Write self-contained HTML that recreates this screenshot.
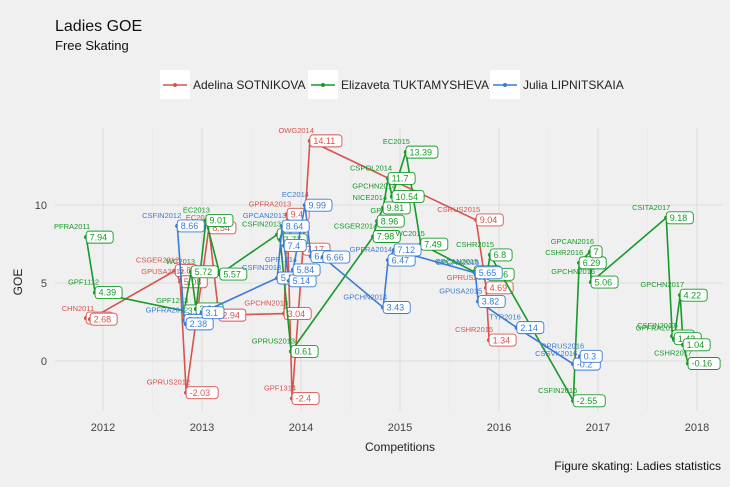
<!DOCTYPE html>
<html><head><meta charset="utf-8">
<style>
html,body{margin:0;padding:0;background:#f0f0f0;}
svg{display:block;font-family:"Liberation Sans",Arial,sans-serif;}
</style></head>
<body>
<svg id="chart" width="730" height="487" viewBox="0 0 730 487" xmlns="http://www.w3.org/2000/svg">
<rect x="0" y="0" width="730" height="487" fill="#f0f0f0"/>
<text x="55" y="31" font-size="16" fill="#111">Ladies GOE</text>
<text x="55" y="50" font-size="13" fill="#111">Free Skating</text>
<g>
 <g>
  <rect x="160" y="70" width="30" height="29" fill="#fff"/>
  <line x1="163" y1="85" x2="187" y2="85" stroke="#d6544e" stroke-width="1.5"/>
  <circle cx="175" cy="85" r="2" fill="#d6544e"/>
  <text x="193" y="89" font-size="12" fill="#222">Adelina SOTNIKOVA</text>
 </g>
 <g>
  <rect x="308" y="70" width="30" height="29" fill="#fff"/>
  <line x1="311" y1="85" x2="335" y2="85" stroke="#169a28" stroke-width="1.5"/>
  <circle cx="323" cy="85" r="2" fill="#169a28"/>
  <text x="341" y="89" font-size="12" fill="#222">Elizaveta TUKTAMYSHEVA</text>
 </g>
 <g>
  <rect x="490" y="70" width="30" height="29" fill="#fff"/>
  <line x1="493" y1="85" x2="517" y2="85" stroke="#3a7bd5" stroke-width="1.5"/>
  <circle cx="505" cy="85" r="2" fill="#3a7bd5"/>
  <text x="523" y="89" font-size="12" fill="#222">Julia LIPNITSKAIA</text>
 </g>
</g>
<g id="grid"></g>
<g id="axes"></g>
<g id="series"></g>
<text x="22" y="282" font-size="12" fill="#222" text-anchor="middle" transform="rotate(-90 22 282)">GOE</text>
<text x="400" y="451" font-size="12" fill="#222" text-anchor="middle">Competitions</text>
<text x="721" y="470" font-size="12" fill="#111" text-anchor="end">Figure skating: Ladies statistics</text>
</svg>
<script>
const xTicks = [2012, 2013, 2014, 2015, 2016, 2017, 2018];
const yTicks = [0, 5, 10];

const sotNames = ["", "CHN2011", "CSGER2012", "GPUSA2012", "GPRUS2012", "EC2013", "", "GPCHN2013", "GPFRA2013", "GPF1314", "", "OWG2014", "CSRUS2015", "GPRUS2015", "CSHR2015"];
const sotX = [2011.83, 2011.87, 2012.73, 2012.78, 2012.84, 2013.07, 2013.17, 2013.83, 2013.86, 2013.91, 2014.02, 2014.09, 2015.77, 2015.87, 2015.9];
const sotY = [2.75, 2.68, 5.8, 5.08, -2.03, 8.54, 2.94, 3.04, 9.4, -2.4, 7.17, 14.11, 9.04, 4.69, 1.34];

const tukNames = ["PFRA2011", "GPF1112", "GPF1213", "WC2013", "", "EC2013", "", "CSFIN2013", "", "GPRUS2013", "CSGER2014", "GP", "NICE2014", "CSPOL2014", "GPCHN2014", "EC2015", "WC2015", "GPCAN2015", "", "CSHR2015", "CSFIN2016", "CSHR2016", "GPCAN2016", "GPCHN2016", "CSITA2017", "CSFIN2017", "GPFRA2017", "GPCHN2017", "", "CSHR2017"];
const tukLabels = ["7.94", "4.39", "3.21", "5.72", "3.34", "9.01", "5.57", "8.1", "7.77", "0.61", "7.98", "8.96", "9.81", "11.7", "10.54", "13.39", "7.49", "5.72", "5.56", "6.8", "-2.55", "6.29", "7", "5.06", "9.18", "1.6", "1.43", "4.22", "1.04", "-0.16"];
const tukX = [2011.83, 2011.92, 2012.82, 2012.89, 2012.94, 2013.04, 2013.18, 2013.76, 2013.79, 2013.9, 2014.73, 2014.77, 2014.83, 2014.88, 2014.92, 2015.06, 2015.21, 2015.75, 2015.88, 2015.91, 2016.75, 2016.81, 2016.92, 2016.93, 2017.69, 2017.75, 2017.77, 2017.83, 2017.86, 2017.91];
const tukY = [7.94, 4.39, 3.21, 5.72, 3.34, 9.01, 5.57, 8.1, 7.77, 0.61, 7.98, 8.96, 9.81, 11.7, 10.54, 13.39, 7.49, 5.72, 5.56, 6.8, -2.55, 6.29, 7.0, 5.06, 9.18, 1.6, 1.43, 4.22, 1.04, -0.16];

const lipNames = ["CSFIN2012", "GPFRA2012", "", "", "CSFIN2013", "GPCAN2013", "", "", "GPF1314", "EC2014", "", "", "GPCHN2014", "GPFRA2014", "", "GPCAN2015", "GPUSA2015", "TYR2016", "CSSVK2016", "GPRUS2016"];
const lipLabels = ["8.66", "2.6", "2.38", "3.1", "5.32", "8.64", "7.4", "5.14", "5.84", "9.99", "6.7", "6.66", "3.43", "6.47", "7.12", "5.65", "3.82", "2.14", "-0.2", "0.3"];
const lipX = [2012.75, 2012.82, 2012.84, 2013.0, 2013.76, 2013.81, 2013.83, 2013.88, 2013.92, 2014.04, 2014.1, 2014.22, 2014.83, 2014.88, 2014.94, 2015.76, 2015.79, 2016.18, 2016.75, 2016.82];
const lipY = [8.66, 2.6, 2.38, 3.1, 5.32, 8.64, 7.4, 5.14, 5.84, 9.99, 6.7, 6.66, 3.43, 6.47, 7.12, 5.65, 3.82, 2.14, -0.2, 0.3];

const sotLabels = ["2.75", "2.68", "5.8", "5.08", "-2.03", "8.54", "2.94", "3.04", "9.4", "-2.4", "7.17", "14.11", "9.04", "4.69", "1.34"];

const X0 = 2012, PX0 = 103, PXY = 99;
const Y0PX = 361, PYU = 15.6;
function xs(v){ return PX0 + (v - X0) * PXY; }
function ys(v){ return Y0PX - v * PYU; }

const NS = "http://www.w3.org/2000/svg";
function mk(tag, attrs, parent){
  const e = document.createElementNS(NS, tag);
  for (const k in attrs) e.setAttribute(k, attrs[k]);
  parent.appendChild(e);
  return e;
}
const grid = document.getElementById('grid');
const axes = document.getElementById('axes');
const series = document.getElementById('series');

// grid
for (let i = 0; i < xTicks.length - 1; i++) {
  const m = (xTicks[i] + xTicks[i+1]) / 2;
  const g = mk('line', {x1: xs(m), x2: xs(m), y1: 128, y2: 411, stroke: '#e6e6e6', 'stroke-width': 0.6}, grid);
  
  
}
xTicks.forEach(t => {
  const g = mk('line', {x1: xs(t), x2: xs(t), y1: 128, y2: 411, stroke: '#dcdcdc', 'stroke-width': 1}, grid);
  
  
  const tl = mk('text', {x: xs(t), y: 431, 'font-size': 11, fill: '#444', 'text-anchor': 'middle'}, axes);
  tl.textContent = t;
  
  
});
yTicks.forEach(t => {
  const g = mk('line', {x1: 55, x2: 722, y1: ys(t), y2: ys(t), stroke: '#dcdcdc', 'stroke-width': 1}, grid);
  
  
  const tl = mk('text', {x: 47, y: ys(t) + 4, 'font-size': 11, fill: '#444', 'text-anchor': 'end'}, axes);
  tl.textContent = t;
  
  
});

function drawSeries(name, color, xsArr, ysArr, names, labels){
  const g = mk('g', {}, series);
  
  
  const pts = xsArr.map((v, i) => xs(v).toFixed(1) + ',' + ys(ysArr[i]).toFixed(1)).join(' ');
  const pl = mk('polyline', {points: pts, fill: 'none', stroke: color, 'stroke-width': 1.6}, g);
  
  
  xsArr.forEach((v, i) => {
    const cx = xs(v), cy = ys(ysArr[i]);
    const c = mk('circle', {cx: cx, cy: cy, r: 2.2, fill: color}, g);
    
    
    const lab = labels[i];
    const w = lab.length * 5 + 7;
    const r = mk('rect', {x: cx, y: cy - 6, width: w, height: 12, rx: 3, fill: '#fff', stroke: color, 'stroke-width': 0.9}, g);
    
    
    const t = mk('text', {x: cx + 3.5, y: cy + 3.2, 'font-size': 9, fill: color}, g);
    t.textContent = lab;
    
    
    if (names[i]) {
      const n = mk('text', {x: cx + 4, y: cy - 8, 'font-size': 7.5, fill: color, 'text-anchor': 'end'}, g);
      n.textContent = names[i];
      
      
    }
  });
}
drawSeries('sotnikova', '#d6544e', sotX, sotY, sotNames, sotLabels);
drawSeries('tuktamysheva', '#169a28', tukX, tukY, tukNames, tukLabels);
drawSeries('lipnitskaia', '#3a7bd5', lipX, lipY, lipNames, lipLabels);
</script>
</body></html>
